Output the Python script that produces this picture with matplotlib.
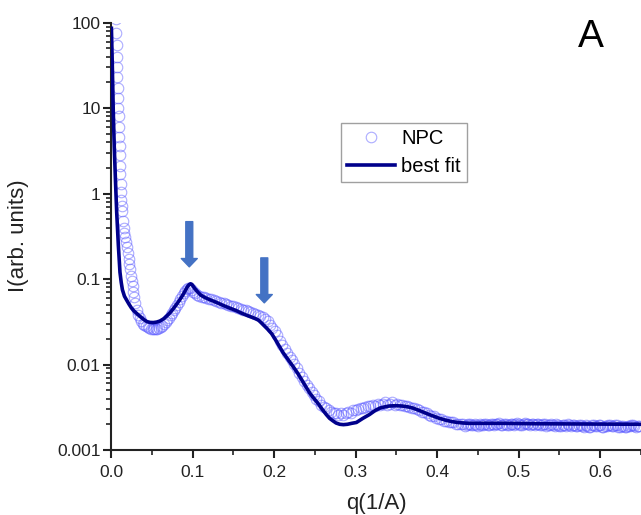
import matplotlib
matplotlib.use("Agg")
import matplotlib.pyplot as plt
from matplotlib.ticker import MultipleLocator, LogLocator, FixedLocator, FixedFormatter, NullFormatter

plt.rcParams['font.family'] = ['Liberation Sans', 'DejaVu Sans']

# Measured scattering curve (NPC)
q_npc = [0.0060, 0.0064, 0.0068, 0.0072, 0.0075, 0.0079, 0.0083, 0.0087, 0.0090, 0.0094,
         0.0098, 0.0101, 0.0105, 0.0109, 0.0113, 0.0116, 0.0120, 0.0124, 0.0128, 0.0131,
         0.0135, 0.0145, 0.0155, 0.0165, 0.0175, 0.0185, 0.0195, 0.0205, 0.0215, 0.0225,
         0.0235, 0.0245, 0.0255, 0.0265, 0.0275, 0.0285, 0.0300, 0.0315, 0.0330,
         0.035, 0.037, 0.039, 0.041, 0.043, 0.045, 0.047, 0.049, 0.051, 0.053,
         0.055, 0.057, 0.059, 0.061, 0.063, 0.065, 0.067, 0.069, 0.071, 0.073,
         0.075, 0.077, 0.079, 0.081, 0.083, 0.085, 0.087, 0.089, 0.091, 0.093,
         0.095, 0.097, 0.099, 0.101,
         0.103, 0.105, 0.108, 0.111, 0.114, 0.117, 0.120, 0.123, 0.126, 0.129,
         0.132, 0.135, 0.138, 0.141, 0.144, 0.147, 0.150, 0.153, 0.156, 0.159,
         0.162, 0.165, 0.168, 0.171, 0.174, 0.177, 0.180, 0.183, 0.186, 0.189,
         0.192, 0.195, 0.198, 0.201, 0.204, 0.207, 0.210, 0.213, 0.216, 0.219,
         0.222, 0.225, 0.228, 0.231, 0.234, 0.237, 0.240, 0.243, 0.246, 0.249,
         0.252, 0.255, 0.258, 0.261, 0.264, 0.267, 0.270, 0.273, 0.276, 0.279,
         0.282, 0.285, 0.288, 0.291, 0.294, 0.297, 0.300, 0.303, 0.306, 0.309,
         0.312, 0.315, 0.318, 0.321, 0.324, 0.327, 0.330, 0.333, 0.336, 0.339,
         0.342, 0.345, 0.348, 0.351, 0.354, 0.357, 0.360, 0.363, 0.366, 0.369,
         0.372, 0.375, 0.378, 0.381, 0.384, 0.387, 0.390, 0.393, 0.396, 0.399,
         0.402, 0.405, 0.408, 0.411, 0.414, 0.417, 0.420, 0.423, 0.426, 0.429,
         0.432, 0.434, 0.436, 0.438, 0.440, 0.442, 0.444, 0.446, 0.448, 0.450,
         0.452, 0.454, 0.456, 0.458, 0.460, 0.462, 0.464, 0.466, 0.468, 0.470,
         0.472, 0.474, 0.476, 0.478, 0.480, 0.482, 0.484, 0.486, 0.488, 0.490,
         0.492, 0.494, 0.496, 0.498, 0.500, 0.502, 0.504, 0.506, 0.508, 0.510,
         0.512, 0.514, 0.516, 0.518, 0.520, 0.522, 0.524, 0.526, 0.528, 0.530,
         0.532, 0.534, 0.536, 0.538, 0.540, 0.542, 0.544, 0.546, 0.548, 0.550,
         0.552, 0.554, 0.556, 0.558, 0.560, 0.562, 0.564, 0.566, 0.568, 0.570,
         0.572, 0.574, 0.576, 0.578, 0.580, 0.582, 0.584, 0.586, 0.588, 0.590,
         0.592, 0.594, 0.596, 0.598, 0.600, 0.602, 0.604, 0.606, 0.608, 0.610,
         0.612, 0.614, 0.616, 0.618, 0.620, 0.622, 0.624, 0.626, 0.628, 0.630,
         0.632, 0.634, 0.636, 0.638, 0.640, 0.642, 0.644, 0.646, 0.648]
i_npc = [110, 75, 55, 40, 30, 23, 17, 13, 10, 8.0,
         6.0, 4.6, 3.6, 2.8, 2.1, 1.7, 1.3, 1.05, 0.85, 0.72,
         0.62, 0.48, 0.40, 0.35, 0.31, 0.27, 0.24, 0.20, 0.17, 0.15,
         0.13, 0.11, 0.095, 0.082, 0.071, 0.062, 0.052, 0.044, 0.038,
         0.035, 0.032, 0.030, 0.029, 0.028, 0.0272, 0.0266, 0.0262, 0.0260, 0.0258,
         0.0259, 0.0260, 0.0266, 0.0274, 0.0285, 0.0300, 0.0315, 0.0333, 0.0352, 0.0375,
         0.040, 0.043, 0.046, 0.050, 0.054, 0.059, 0.064, 0.069, 0.073, 0.077,
         0.079, 0.078, 0.075, 0.071,
         0.068, 0.066, 0.064, 0.062, 0.061, 0.060, 0.059, 0.058, 0.057, 0.055,
         0.054, 0.053, 0.052, 0.051, 0.050, 0.049, 0.048, 0.047, 0.046, 0.045,
         0.044, 0.043, 0.042, 0.041, 0.040, 0.039, 0.038, 0.037, 0.036, 0.034,
         0.032, 0.029, 0.027, 0.025, 0.022, 0.019, 0.017, 0.0152, 0.0135, 0.0122,
         0.0112, 0.0102, 0.0090, 0.0080, 0.0071, 0.0064, 0.0058, 0.0053, 0.0048, 0.0044,
         0.0040, 0.0037, 0.0034, 0.0032, 0.0031, 0.0029, 0.0028, 0.0027, 0.0027, 0.0026,
         0.0027, 0.0026, 0.0027, 0.0028, 0.0027, 0.0029, 0.0029, 0.0030, 0.0031, 0.0031,
         0.0032, 0.0033, 0.0033, 0.0034, 0.0033, 0.0035, 0.0034, 0.0035, 0.0036, 0.0034,
         0.0035, 0.0036, 0.0034, 0.0035, 0.0034, 0.0034, 0.0033, 0.0033, 0.0032, 0.0031,
         0.0031, 0.0030, 0.0029, 0.0028, 0.0028, 0.0027, 0.0026, 0.0025, 0.0025, 0.0024,
         0.0023, 0.0023, 0.0022, 0.0022, 0.0021, 0.0021, 0.0021, 0.0020, 0.0020, 0.0020,
         0.00199, 0.00193, 0.00196, 0.00203, 0.00201, 0.00197, 0.00194, 0.00200, 0.00198, 0.00192,
         0.00203, 0.00198, 0.00197, 0.00204, 0.00200, 0.00195, 0.00195, 0.00201, 0.00202, 0.00196,
         0.00199, 0.00202, 0.00205, 0.00198, 0.00197, 0.00203, 0.00201, 0.00194, 0.00196, 0.00200,
         0.00204, 0.00197, 0.00199, 0.00205, 0.00202, 0.00196, 0.00197, 0.00203, 0.00206, 0.00199,
         0.00199, 0.00195, 0.00203, 0.00200, 0.00196, 0.00202, 0.00201, 0.00197, 0.00194, 0.00200,
         0.00199, 0.00192, 0.00195, 0.00198, 0.00201, 0.00196, 0.00193, 0.00199, 0.00197, 0.00190,
         0.00191, 0.00198, 0.00196, 0.00192, 0.00199, 0.00195, 0.00192, 0.00198, 0.00197, 0.00191,
         0.00190, 0.00196, 0.00195, 0.00189, 0.00188, 0.00194, 0.00193, 0.00187, 0.00186, 0.00195,
         0.00196, 0.00190, 0.00189, 0.00196, 0.00194, 0.00188, 0.00187, 0.00193, 0.00192, 0.00197,
         0.00198, 0.00191, 0.00189, 0.00195, 0.00194, 0.00188, 0.00186, 0.00192, 0.00191, 0.00185,
         0.00184, 0.00191, 0.00190, 0.00197, 0.00196, 0.00189, 0.00185, 0.00193, 0.00192]

# Model fit
q_fit = [0.0005, 0.0015, 0.0028, 0.004, 0.0055, 0.007, 0.009, 0.011, 0.0125, 0.014,
         0.0165, 0.0193, 0.022, 0.025, 0.028, 0.0315, 0.035, 0.038, 0.041, 0.044,
         0.048, 0.052, 0.056, 0.060, 0.065, 0.069, 0.072, 0.076, 0.080, 0.0850,
         0.088, 0.090, 0.092, 0.094, 0.096, 0.0975, 0.099, 0.101, 0.103, 0.105,
         0.108, 0.110, 0.115, 0.120, 0.126, 0.132, 0.138, 0.145, 0.153, 0.161,
         0.167, 0.172, 0.177, 0.181, 0.184, 0.187, 0.192, 0.197, 0.202, 0.207,
         0.211, 0.215, 0.219, 0.2236, 0.229, 0.234, 0.239, 0.244, 0.249, 0.254,
         0.259, 0.264, 0.268, 0.272, 0.276, 0.2805, 0.285, 0.290, 0.295, 0.301,
         0.309, 0.317, 0.324, 0.330, 0.336, 0.341, 0.349, 0.357, 0.364, 0.370,
         0.376, 0.382, 0.388, 0.395, 0.402, 0.410, 0.418, 0.425, 0.432, 0.439,
         0.46, 0.48, 0.52, 0.56, 0.60, 0.65]
i_fit = [86, 35, 9, 3.5, 1.4, 0.6, 0.25, 0.12, 0.092, 0.075,
         0.063, 0.0565, 0.051, 0.046, 0.0425, 0.0396, 0.037, 0.035, 0.0332, 0.0318,
         0.0311, 0.0310, 0.0314, 0.0323, 0.0345, 0.0375, 0.040, 0.0445, 0.050, 0.0585,
         0.065, 0.070, 0.076, 0.082, 0.0865, 0.088, 0.087, 0.082, 0.077, 0.073,
         0.068, 0.065, 0.061, 0.058, 0.055, 0.052, 0.049, 0.046, 0.043, 0.0396,
         0.0375, 0.036, 0.0345, 0.033, 0.031, 0.029, 0.026, 0.023, 0.0193, 0.016,
         0.0138, 0.0122, 0.0108, 0.0094, 0.0079, 0.0066, 0.0055, 0.0046, 0.0040, 0.0035,
         0.0030, 0.0026, 0.00235, 0.0022, 0.00207, 0.0020, 0.00198, 0.0020, 0.00205, 0.0021,
         0.00235, 0.0026, 0.0029, 0.0031, 0.0032, 0.00327, 0.0033, 0.00327, 0.0032, 0.0031,
         0.00295, 0.0028, 0.00265, 0.0025, 0.00236, 0.00224, 0.00215, 0.0021, 0.00207, 0.00205,
         0.00205, 0.00205, 0.00203, 0.00202, 0.00201, 0.0020]

# Peak markers: (q, arrow start, arrow tip)
arrow_q = [0.096, 0.188]
arrow_top = [0.47, 0.177]
arrow_tip = [0.139, 0.0527]

y_ticks = [0.001, 0.01, 0.1, 1, 10, 100]
y_ticklabels = ['0.001', '0.01', '0.1', '1', '10', '100']

W, H = 641, 515
fig = plt.figure(figsize=(W / 100, H / 100), dpi=100)
ax = fig.add_axes([111 / W, 65 / H, 530 / W, 427.3 / H])

ax.plot(q_npc, i_npc, linestyle='none', marker='o', markersize=7.6,
        markerfacecolor='none', markeredgecolor='#5a5aff', markeredgewidth=0.8,
        alpha=0.5, label='NPC', zorder=2)
ax.plot(q_fit, i_fit, color='#00008b', linewidth=2.6, label='best fit', zorder=3,
        solid_joinstyle='round')

for xq, yt, yb in zip(arrow_q, arrow_top, arrow_tip):
    ax.annotate('', xy=(xq, yb), xytext=(xq, yt),
                arrowprops=dict(arrowstyle='simple,head_width=1.15,head_length=0.6,tail_width=0.5',
                                color='#4472c4', shrinkA=0, shrinkB=0, mutation_scale=10),
                zorder=4)

ax.set_yscale('log')
ax.set_xlim(0, 0.65)
ax.set_ylim(0.001, 100)

ax.xaxis.set_major_locator(MultipleLocator(0.1))
ax.xaxis.set_minor_locator(MultipleLocator(0.05))
ax.xaxis.set_major_formatter(plt.FuncFormatter(lambda v, p: f'{v:.1f}'))
ax.yaxis.set_major_locator(FixedLocator(y_ticks))
ax.yaxis.set_major_formatter(FixedFormatter(y_ticklabels))
ax.yaxis.set_minor_locator(LogLocator(base=10, subs=range(2, 10), numticks=20))
ax.yaxis.set_minor_formatter(NullFormatter())

for side in ('top', 'right'):
    ax.spines[side].set_visible(False)
for side in ('left', 'bottom'):
    ax.spines[side].set_linewidth(1.5)
    ax.spines[side].set_color('#222222')

ax.tick_params(which='major', direction='out', length=5.5, width=1.5, color='#222222',
               labelsize=12.5, labelcolor='#222222')
ax.tick_params(which='minor', direction='out', length=3.5, width=1.2, color='#222222')
ax.tick_params(axis='y', which='major', pad=2)
ax.tick_params(axis='x', which='major', pad=5)

fig.text(19 / W, 1 - 236 / H, 'I(arb. units)', rotation=90, ha='center', va='center',
         fontsize=16, color='#222222')
fig.text(376 / W, 6 / H, 'q(1/A)', ha='center', va='baseline', fontsize=16, color='#222222')
fig.text(591 / W, 1 - 37 / H, 'A', ha='center', va='center', fontsize=28, color='black')

leg = ax.legend(loc='upper left', bbox_to_anchor=(341 / W, 1 - 123 / H),
                bbox_transform=fig.transFigure, borderaxespad=0, fontsize=14.5,
                frameon=True, fancybox=False, edgecolor='#a0a0a0', framealpha=1,
                handlelength=2.4, handletextpad=0.3, borderpad=0.3, labelspacing=0.45)
leg.get_frame().set_linewidth(1.0)

fig.savefig('out.png', dpi=100)
